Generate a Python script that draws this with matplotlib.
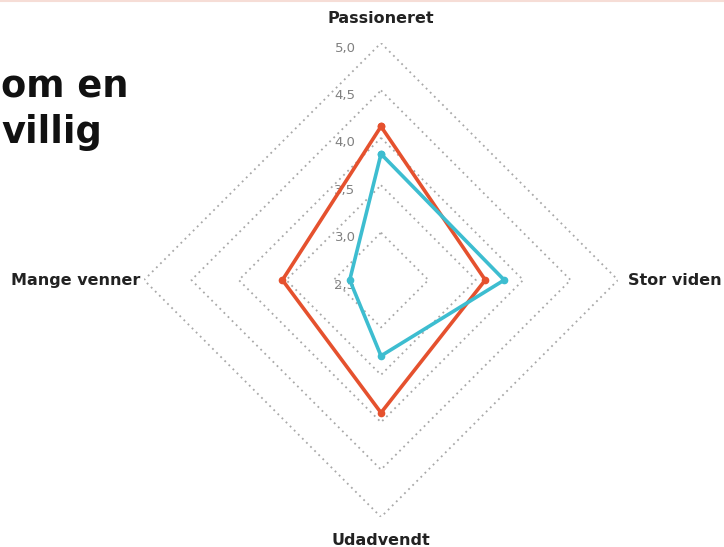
import numpy as np
import matplotlib
matplotlib.use("Agg")
from matplotlib import pyplot as plt
from matplotlib import transforms

# data
categories = ['Passioneret', 'Stor viden', 'Udadvendt', 'Mange venner']
red_values = [4.12, 3.6, 3.9, 3.54]
teal_values = [3.83, 3.8, 3.3, 2.83]
levels = [2.5, 3.0, 3.5, 4.0, 4.5, 5.0]
level_labels = ['2,5', '3,0', '3,5', '4,0', '4,5', '5,0']

red = '#e5512e'
teal = '#3dbdd0'

fig = plt.figure(figsize=(7.24, 5.47), dpi=100)
ax = fig.add_axes([0.1989, 0.0548, 0.6547, 0.8665], projection='polar')
ax.set_theta_offset(np.pi / 2)
ax.set_theta_direction(-1)
ax.set_ylim(2.5, 5.0)
ax.grid(False)
ax.spines['polar'].set_visible(False)
ax.set_xticks([])
ax.set_yticks([])
ax.patch.set_alpha(0)

angles = np.linspace(0, 2 * np.pi, len(categories), endpoint=False)
closed = np.append(angles, angles[0])

# square grid
for lvl in levels[1:]:
    ax.plot(closed, [lvl] * len(closed), linestyle=(0, (1, 2.2)),
            color='#a8a8a8', lw=1.3, zorder=1)

# tick labels left of top spoke
off = transforms.offset_copy(ax.transData, fig=fig, x=-36, y=-5, units='dots')
for lvl, lab in zip(levels, level_labels):
    ax.text(0, lvl, lab, transform=off, ha='center', va='center',
            fontsize=9.5, color='#808080', zorder=2)

# series
ax.plot(closed, red_values + red_values[:1], color=red, lw=2.6,
        marker='o', markersize=4.5, zorder=3)
ax.plot(closed, teal_values + teal_values[:1], color=teal, lw=2.6,
        marker='o', markersize=4.5, zorder=4)

# category labels
lab_kw = dict(fontsize=11.5, fontweight='bold', color='#222222')
t0 = transforms.offset_copy(ax.transData, fig=fig, x=0, y=25, units='dots')
ax.text(angles[0], 5.0, categories[0], transform=t0, ha='center', va='center', **lab_kw)
t1 = transforms.offset_copy(ax.transData, fig=fig, x=10, y=0, units='dots')
ax.text(angles[1], 5.0, categories[1], transform=t1, ha='left', va='center', **lab_kw)
t2 = transforms.offset_copy(ax.transData, fig=fig, x=0, y=-23, units='dots')
ax.text(angles[2], 5.0, categories[2], transform=t2, ha='center', va='center', **lab_kw)
t3 = transforms.offset_copy(ax.transData, fig=fig, x=-4, y=0, units='dots')
ax.text(angles[3], 5.0, categories[3], transform=t3, ha='right', va='center', **lab_kw)

# slide title (cropped in the source)
fig.text(0.002, 1 - 97 / 547, 'om en', ha='left', va='baseline',
         fontsize=26.5, fontweight='bold', color='#111111')
fig.text(0.002, 1 - 143 / 547, 'villig', ha='left', va='baseline',
         fontsize=26.5, fontweight='bold', color='#111111')

fig.add_artist(plt.Line2D([0, 1], [0.998, 0.998], color='#f6ddd6', lw=1.5))

fig.savefig('out.png', dpi=100, facecolor='white')
